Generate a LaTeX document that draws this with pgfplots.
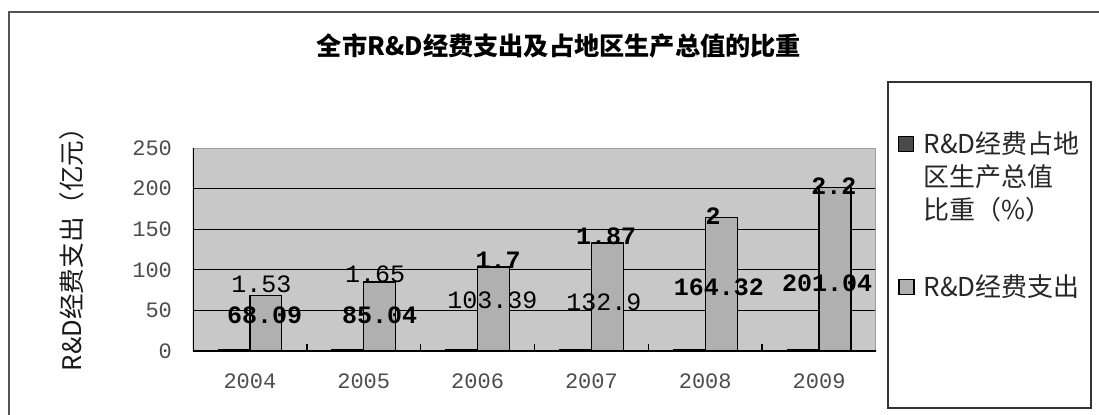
\documentclass[border=0pt]{standalone}
\usepackage{pgfplots}
\pgfplotsset{compat=1.18}
\usepackage{fontspec}
\setmainfont{Liberation Serif}
\newfontfamily\cjk{Noto Sans CJK SC}
\newfontfamily\mono{Liberation Mono}
\definecolor{plotbg}{HTML}{C8C8C8}
\definecolor{barlight}{HTML}{B0B0B0}
\definecolor{bardark}{HTML}{4A4A4A}
\definecolor{framegray}{HTML}{555555}
\tikzset{
  lab/.style={font=\mono\fontsize{12.5}{12.5}\selectfont, text=black, inner sep=0pt},
  labb/.style={font=\mono\bfseries\fontsize{12.5}{12.5}\selectfont, text=black, inner sep=0pt},
}
\pgfplotsset{
  legA/.style={legend image code/.code={\draw[##1] (0pt,12.75pt) rectangle (7.5pt,20.25pt);}},
  legB/.style={legend image code/.code={\draw[##1] (0pt,-3.75pt) rectangle (7.5pt,3.75pt);}},
}
\begin{document}
\begin{tikzpicture}[x=1pt,y=1pt]
\useasboundingbox (0,0) rectangle (549.5,207);
\draw[framegray, line width=1pt] (4.5,-20) rectangle (570,201);
\draw[black!80, line width=0.8pt] (444,3) rectangle (545.5,166);
\node[font=\cjk\bfseries\fontsize{12.6}{14}\selectfont] at (279.5,184) {全市R\&D经费支出及占地区生产总值的比重};
\begin{axis}[
  at={(96.5pt,31.5pt)}, anchor=south west,
  width=341.5pt, height=101.5pt, scale only axis,
  xmin=-0.5, xmax=5.5, ymin=0, ymax=250,
  ybar=0pt, bar width=0.28,
  xtick={0,1,2,3,4,5}, xticklabels={2004,2005,2006,2007,2008,2009},
  minor xtick={0.5,1.5,2.5,3.5,4.5},
  ytick={0,50,100,150,200,250},
  xtick pos=bottom, ytick pos=left,
  major tick length=0pt, minor tick length=3.5pt, tick align=inside,
  minor tick style={black, line width=0.8pt},
  ymajorgrids, grid style={black, line width=0.5pt},
  axis line style={draw=none},
  axis background/.style={fill=plotbg},
  tick label style={font=\mono\fontsize{11}{11}\selectfont, text=black!70},
  /pgf/number format/assume math mode=true,
  yticklabel style={xshift=-7pt},
  xticklabel style={yshift=-8pt},
  ylabel={R\&D经费支出（亿元）},
  ylabel style={font=\cjk\fontsize{12.8}{13}\selectfont, text=black!90, at={(axis description cs:-0.177,0.532)}, anchor=center},
  legend style={at={(axis description cs:1.0322,1.0837)}, anchor=north west,
    draw=none, fill=none, inner sep=0pt, row sep=26pt, column sep=4.5pt,
    font=\cjk\fontsize{13}{16.5}\selectfont, text=black!85,
    nodes={inner sep=0pt}, cells={align=left, anchor=west}},
]
\addplot[fill=bardark, draw=black, line width=0.5pt, legA]
  coordinates {(0,1.53) (1,1.65) (2,1.7) (3,1.87) (4,2) (5,2.2)};
\addlegendentry{R\&D经费占地\\区生产总值\\比重（\%）}
\addplot[fill=barlight, draw=black, line width=0.6pt, legB]
  coordinates {(0,68.09) (1,85.04) (2,103.39) (3,132.9) (4,164.32) (5,201.04)};
\addlegendentry{R\&D经费支出}
\draw[gray!75, line width=0.8pt] (rel axis cs:0,1) -- (rel axis cs:1,1) -- (rel axis cs:1,0);
\draw[black, line width=0.8pt] (rel axis cs:0,1) -- (rel axis cs:0,0) -- (rel axis cs:1,0);
\node[lab]  at (axis cs:0.10,82.5) {1.53};
\node[labb] at (axis cs:0.13,43.7) {68.09};
\node[lab]  at (axis cs:1.10,94.8) {1.65};
\node[labb] at (axis cs:1.14,43.7) {85.04};
\node[labb] at (axis cs:2.18,112) {1.7};
\node[lab]  at (axis cs:2.13,62) {103.39};
\node[labb] at (axis cs:3.13,140.9) {1.87};
\node[lab]  at (axis cs:3.11,60.5) {132.9};
\node[labb] at (axis cs:4.07,165.6) {2};
\node[labb] at (axis cs:4.12,79) {164.32};
\node[labb] at (axis cs:5.13,202.6) {2.2};
\node[labb] at (axis cs:5.07,83.2) {201.04};
\end{axis}
\end{tikzpicture}
\end{document}
